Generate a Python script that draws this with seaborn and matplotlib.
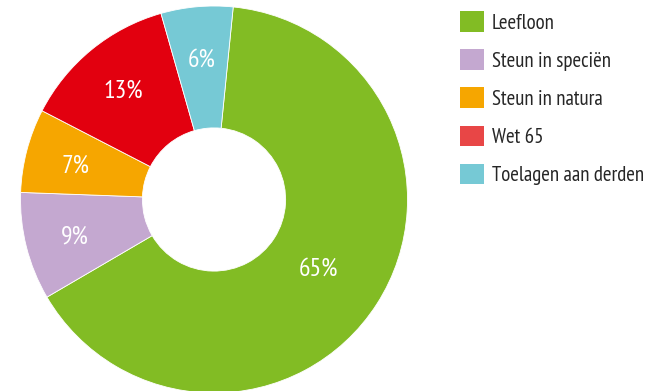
import numpy as np
import matplotlib
matplotlib.use("Agg")
import matplotlib.pyplot as plt
import matplotlib.patches as mpatches
import seaborn as sns

categories = ["Leefloon", "Steun in speciën", "Steun in natura", "Wet 65", "Toelagen aan derden"]
shares = [65, 9, 7, 13, 6]
slice_colors = ["#82bc24", "#c4a8d0", "#f6a600", "#e2000f", "#76c9d5"]
legend_colors = ["#82bc24", "#c4a8d0", "#f6a600", "#e84646", "#76c9d5"]

sns.set_theme(style="white")
plt.rcParams["font.family"] = ["PT Sans Narrow", "DejaVu Sans"]

fig = plt.figure(figsize=(6.54, 3.91), dpi=100)
W, H = 654, 391
cx, cy, r = 214, 199.5, 193.5
ax = fig.add_axes([(cx - r) / W, (H - cy - r) / H, 2 * r / W, 2 * r / H])

wedges, _ = ax.pie(
    shares,
    colors=slice_colors,
    startangle=84.3,
    counterclock=False,
    radius=1.0,
    wedgeprops=dict(width=0.63, edgecolor="white", linewidth=0.6),
)
ax.set_xlim(-1, 1)
ax.set_ylim(-1, 1)
ax.set_aspect("equal")
ax.axis("off")

# percentage labels placed along each wedge's mid-angle
for w, val in zip(wedges, shares):
    mid = np.deg2rad((w.theta1 + w.theta2) / 2)
    dist = 0.64 if val > 50 else 0.74
    ax.text(dist * np.cos(mid), dist * np.sin(mid) - 0.015, f"{val}%",
            ha="center", va="center", color="white", fontsize=18.5)

handles = [mpatches.Patch(facecolor=c, edgecolor="none") for c in legend_colors]
fig.legend(handles, categories, loc="upper left",
           bbox_to_anchor=(452 / W, 1 - 3 / H), frameon=False,
           fontsize=15, handlelength=1.15, handleheight=1.15,
           handletextpad=0.35, labelspacing=0.8, borderaxespad=0)

fig.savefig("out.png", dpi=100)
